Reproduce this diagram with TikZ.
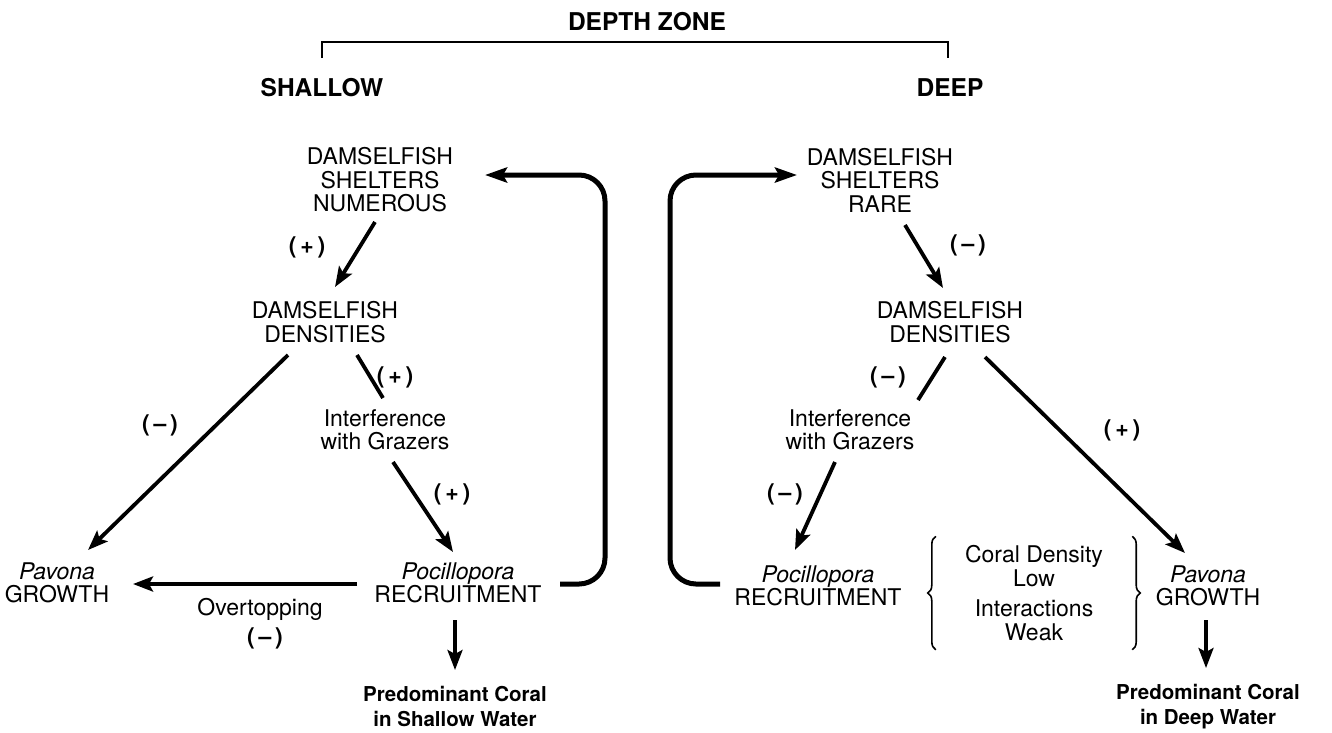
\documentclass[tikz,border=0pt]{standalone}
\usepackage{fontspec}
\setmainfont{TeX Gyre Heros}
\usetikzlibrary{arrows.meta,decorations.pathreplacing}

\begin{document}
\begin{tikzpicture}[x=1pt,y=-1pt,
    lbl/.style={align=center,inner sep=0pt,font=\fontsize{23}{23.5}\selectfont},
    hdr/.style={inner sep=0pt,font=\fontsize{24.5}{25}\selectfont\bfseries},
    res/.style={align=center,inner sep=0pt,font=\fontsize{20.5}{25}\selectfont\bfseries},
    sgn/.style={inner sep=0pt,font=\fontsize{23}{24}\selectfont\bfseries},
    arr/.style={line width=3.8pt,-{Stealth[length=20pt,width=15pt,inset=4pt]}},
    lnk/.style={line width=3.8pt},
    fback/.style={line width=5pt,rounded corners=26pt,-{Stealth[length=22pt,width=15pt,inset=4pt]}},
    brc/.style={line width=1.6pt,decorate,decoration={brace,amplitude=8pt}}]
      \useasboundingbox (0,0) rectangle (1332,732);

      % depth zone header
      \node[hdr] at (647,22) (zone) {DEPTH ZONE};
      \node[hdr] at (322,88) (shallow) {SHALLOW};
      \node[hdr] at (950,88) (deep) {DEEP};
      \coordinate (zl) at (322,58);
      \coordinate (zr) at (948,58);
      \draw[line width=2.6pt] (zl) -- ++(0,-16) -| (zr);

      % shallow side
      \node[lbl] at (380,180) (shelL) {DAMSELFISH\\SHELTERS\\NUMEROUS};
      \node[lbl] at (325,322) (densL) {DAMSELFISH\\DENSITIES};
      \node[lbl] at (385,430) (intL) {Interference\\with Grazers};
      \node[lbl] at (57,583) (pavL) {\itshape Pavona\\GROWTH};
      \node[lbl] at (458,583) (pocL) {\itshape Pocillopora\\RECRUITMENT};
      \node[res] at (455,706) (coralL) {Predominant Coral\\in Shallow Water};
      \coordinate (fbL) at (605,400);

      \draw[arr] ([shift={(-5,42)}]shelL.center) -- ([shift={(10,-35)}]densL.center);
      \draw[arr] ([shift={(-37,33)}]densL.center) -- ([shift={(31,-33)}]pavL.center);
      \draw[lnk] ([shift={(32,33)}]densL.center) -- ([shift={(-2,-32)}]intL.center);
      \draw[arr] ([shift={(8,32)}]intL.center) -- ([shift={(-5,-31)}]pocL.center);
      \draw[arr] ([shift={(-101,1)}]pocL.center) -- ([shift={(76,1)}]pavL.center);
      \draw[arr,line width=3.4pt] ([shift={(-3,37)}]pocL.center) -- ([shift={(0,-36)}]coralL.center);
      \draw[fback] ([shift={(102,1)}]pocL.center) -| (fbL) |- ([shift={(105,-5)}]shelL.center);

      \node[sgn] at (307,247) (sa) {(\,+\,)};
      \node[sgn] at (395,377) (sb) {(\,+\,)};
      \node[sgn] at (160,425) (sc) {(\,--\,)};
      \node[sgn] at (452,494) (sd) {(\,+\,)};
      \node[lbl] at (260,609) (over) {Overtopping};
      \node[sgn] at (265,638) (se) {(\,--\,)};

      % deep side
      \node[lbl] at (880,180) (shelR) {DAMSELFISH\\SHELTERS\\RARE};
      \node[lbl] at (950,322) (densR) {DAMSELFISH\\DENSITIES};
      \node[lbl] at (850,430) (intR) {Interference\\with Grazers};
      \node[lbl] at (818,586) (pocR) {\itshape Pocillopora\\RECRUITMENT};
      \node[lbl] at (1208,586) (pavR) {\itshape Pavona\\GROWTH};
      \node[res] at (1208,707) (coralR) {Predominant Coral\\in Deep Water};
      \node[lbl,minimum width=196,minimum height=113] at (1034,593) (cond)
        {Coral Density\\Low\\[7pt]Interactions\\Weak};
      \coordinate (fbR) at (670,400);

      \draw[fback] ([shift={(-98,-2)}]pocR.center) -| (fbR) |- ([shift={(-83,-5)}]shelR.center);
      \draw[arr] ([shift={(25,45)}]shelR.center) -- ([shift={(-7,-34)}]densR.center);
      \draw[lnk] ([shift={(-5,35)}]densR.center) -- ([shift={(68,-30)}]intR.center);
      \draw[arr] ([shift={(-15,32)}]intR.center) -- ([shift={(-23,-36)}]pocR.center);
      \draw[arr] ([shift={(35,35)}]densR.center) -- ([shift={(-23,-33)}]pavR.center);
      \draw[arr,line width=3.4pt] ([shift={(-2,34)}]pavR.center) -- ([shift={(-2,-39)}]coralR.center);
      \draw[brc] (cond.south west) -- (cond.north west);
      \draw[brc] (cond.north east) -- (cond.south east);

      \node[sgn] at (968,245) (sf) {(\,--\,)};
      \node[sgn] at (888,377) (sg) {(\,--\,)};
      \node[sgn] at (785,494) (sh) {(\,--\,)};
      \node[sgn] at (1122,430) (si) {(\,+\,)};
   \end{tikzpicture}
\end{document}
